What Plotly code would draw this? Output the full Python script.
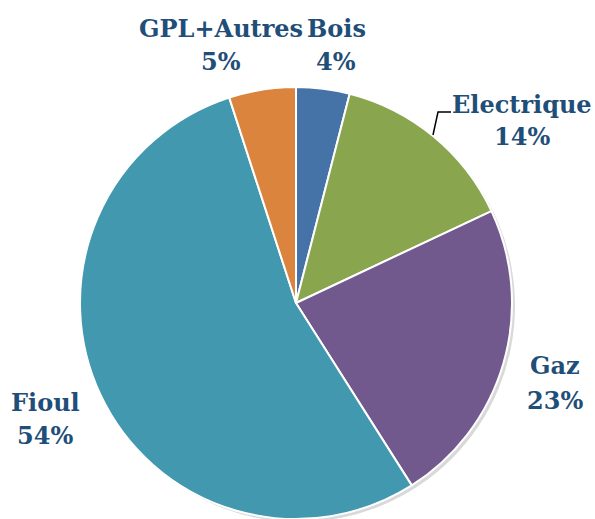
import plotly.graph_objects as go

labels = ["Bois", "Electrique", "Gaz", "Fioul", "GPL+Autres"]
values = [4, 14, 23, 54, 5]
colors = ["#4572A7", "#89A54E", "#71598E", "#4198AF", "#DB843D"]

W, H = 595, 519
cx, cy, r = 296, 303, 216

# label positions in pixels (centre x, centre of name line, centre of percent line)
label_pos = {
    "Bois": (336, 28, 62),
    "Electrique": (522, 104, 137),
    "Gaz": (555, 365, 400),
    "Fioul": (45, 402, 435),
    "GPL+Autres": (221, 28, 62),
}

fig = go.Figure(go.Pie(
    labels=labels, values=values, sort=False, direction="clockwise", rotation=0,
    marker=dict(colors=colors, line=dict(color="white", width=2)),
    textinfo="none", hoverinfo="label+percent", showlegend=False,
    domain=dict(x=[(cx - r) / W, (cx + r) / W], y=[(H - cy - r) / H, (H - cy + r) / H]),
))

font = dict(family="DejaVu Serif", size=24, color="#1F4E79", weight="bold")
ann = []
for lab, val in zip(labels, values):
    x, y1, y2 = label_pos[lab]
    ann.append(dict(text=f"<b>{lab}</b>", x=x / W, y=1 - y1 / H, xref="paper", yref="paper",
                    showarrow=False, font=font, xanchor="center", yanchor="middle"))
    ann.append(dict(text=f"<b>{val}%</b>", x=x / W, y=1 - y2 / H, xref="paper", yref="paper",
                    showarrow=False, font=font, xanchor="center", yanchor="middle"))

# leader line for Electrique
pts = [(433, 135), (438, 112), (451, 112)]
path = "M " + " L ".join(f"{px / W},{1 - py / H}" for px, py in pts)

# soft shadow behind the pie
sh = 3
shadow = dict(type="circle", xref="paper", yref="paper", layer="below",
              x0=(cx - r + sh) / W, x1=(cx + r + sh) / W,
              y0=1 - (cy + r + sh) / H, y1=1 - (cy - r + sh) / H,
              fillcolor="#d9d9d9", line=dict(width=0))

fig.update_layout(
    width=W, height=H, margin=dict(l=0, r=0, t=0, b=0),
    paper_bgcolor="white", plot_bgcolor="white",
    annotations=ann,
    shapes=[shadow, dict(type="path", path=path, xref="paper", yref="paper",
                         line=dict(color="black", width=1.5))],
)
fig.write_html("out.html", config={"displayModeBar": False},
               post_script="document.body.style.margin='0';")
